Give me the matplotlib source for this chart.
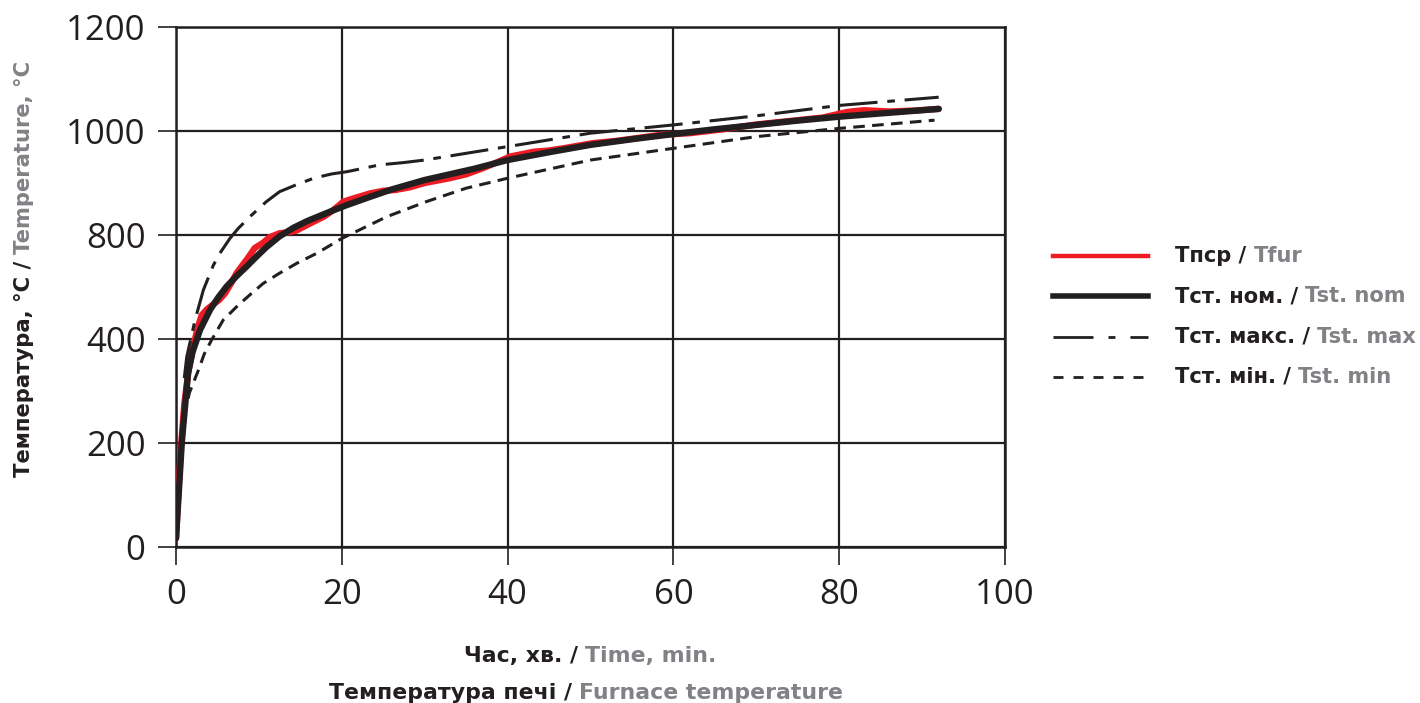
import matplotlib
matplotlib.use('Agg')
import matplotlib.pyplot as plt

# Данні, зчитані з рисунку (шкала осі Y: 0..1200, мітки як у оригіналі)
t_nom = [0, 0.35, 0.7, 1.45, 2.0, 2.9, 4.1, 5.1, 6.1, 7.3, 8.5, 9.7, 10.9, 12.5, 14.2, 15.8, 18.6, 20.6, 23.4, 26,
         30, 33, 36, 40, 45, 50, 55, 60, 65, 70, 75, 80, 86, 92]
T_nom = [20, 130, 241, 401, 450, 501, 547, 576, 601, 625, 647, 670, 692, 717, 737, 752, 774, 789, 808, 825,
         847, 860, 873, 893, 911, 928, 941, 953, 964, 974, 984, 993, 1002, 1011]

t_fur = [0, 0.3, 0.6, 1, 1.5, 2, 2.6, 3.1, 3.7, 4.5, 5.2, 5.9, 6.6, 7.3, 8, 8.6, 9.5, 10.5, 11.3, 12.5, 13.5,
         14.5, 16, 17.8, 18.8, 20.2, 21.5, 23.4, 25, 26.5, 28.2, 30, 33, 35, 37, 38.5, 40.3, 43.1, 45, 47, 50.3,
         53, 55, 58.4, 62, 66, 70, 74, 78, 81, 83, 86, 89, 92]
T_fur = [20, 130, 230, 330, 405, 455, 505, 535, 548, 560, 570, 585, 607, 632, 650, 665, 690, 702, 715, 724, 726,
         730, 745, 762, 775, 797, 805, 816, 822, 824, 830, 840, 851, 860, 874, 886, 901, 912, 915, 921, 932,
         937, 942, 951, 955, 964, 975, 983, 991, 1004, 1008, 1005, 1007, 1011]

t_max = [1.0, 1.3, 2.3, 3.3, 4.5, 5.3, 6.5, 7.5, 8.9, 10.9, 12.5, 14.4, 16.6, 18.8, 20.6, 24.6, 27.4, 30, 40,
         50, 60, 70, 80, 92]
T_max = [390, 439, 524, 593, 650, 678, 712, 735, 762, 797, 820, 835, 851, 861, 866, 882, 887, 893, 924,
         955, 974, 995, 1019, 1038]

t_min = [1.0, 1.6, 2.7, 3.4, 4.3, 5.7, 7.5, 9.1, 10.5, 12.5, 14.6, 17, 20, 25.4, 30.2, 35, 40, 50, 60, 70, 80,
         91.5]
T_min = [300, 355, 408, 445, 478, 524, 558, 585, 608, 632, 655, 678, 712, 762, 797, 828, 851, 893, 920, 947, 966,
         985]

x_ticks = [0, 20, 40, 60, 80, 100]
y_ticks = [0, 240, 480, 720, 960, 1200]
y_tick_labels = ['0', '200', '400', '800', '1000', '1200']

leg_black = ['Тпср / ', 'Тст. ном. / ', 'Тст. макс. / ', 'Тст. мін. / ']
leg_grey = ['Tfur', 'Tst. nom', 'Tst. max', 'Tst. min']

INK = '#231f20'
GREY = '#808285'
RED = '#ed1c24'

fig = plt.figure(figsize=(14.2, 7.03), dpi=100)
ax = fig.add_axes([176 / 1420, 1 - 547 / 703, (1005 - 176) / 1420, (547 - 27) / 703])

ax.plot(t_fur, T_fur, color=RED, lw=4.6, solid_capstyle='round', solid_joinstyle='round', zorder=3)
ax.plot(t_nom, T_nom, color=INK, lw=4.6, solid_capstyle='round', solid_joinstyle='round', zorder=4)
ax.plot(t_max, T_max, color=INK, lw=2.2, linestyle=(0, (12.5, 3.2, 2.5, 3.2)), zorder=4)
ax.plot(t_min, T_min, color=INK, lw=2.2, linestyle=(0, (3.8, 2.4)), zorder=4)

ax.set_xlim(0, 100)
ax.set_ylim(0, 1200)
ax.set_xticks(x_ticks)
ax.set_yticks(y_ticks)
ax.set_yticklabels(y_tick_labels)
ax.grid(True, color=INK, lw=1.6)
ax.set_axisbelow(True)
for s in ax.spines.values():
    s.set_color(INK)
    s.set_linewidth(1.8)
ax.tick_params(direction='out', length=13, width=1.2, color=INK, labelcolor=INK,
               labelsize=25, pad=9)
for lab in ax.get_xticklabels() + ax.get_yticklabels():
    lab.set_family('Open Sans')

renderer = fig.canvas.get_renderer()


# Двоколірний текст: чорна частина, далі сіра
def two_tone(x, y, black, grey, size, ha='center', rotation=0):
    kw = dict(fontsize=size, fontweight='bold', family='DejaVu Sans', va='baseline',
              rotation=rotation, rotation_mode='anchor')
    full = fig.text(x, y, black + grey, ha=ha, **kw)
    bb = full.get_window_extent(renderer)
    full.remove()
    g = fig.text(x, y, grey, color=GREY, ha='left', **kw)
    gb = g.get_window_extent(renderer)
    if rotation == 0:
        fig.text(bb.x0 / fig.bbox.width, y, black, color=INK, ha='left', **kw)
        g.set_x((bb.x1 - gb.width) / fig.bbox.width)
    else:
        fig.text(x, bb.y0 / fig.bbox.height, black, color=INK, ha='left', **kw)
        g.set_y((bb.y1 - gb.height) / fig.bbox.height)


two_tone(590 / 1420, 1 - 662 / 703, 'Час, хв. / ', 'Time, min.', 15.8)
two_tone(586 / 1420, 1 - 699 / 703, 'Температура печі / ', 'Furnace temperature', 15.8)
two_tone(30 / 1420, 1 - 269 / 703, 'Температура, °С / ', 'Temperature, °C', 15.2, rotation=90)

# Легенда
leg = fig.add_axes([0, 0, 1, 1], facecolor='none')
leg.set_xlim(0, 1420)
leg.set_ylim(703, 0)
leg.axis('off')
leg_y = [256, 296, 337, 377]
leg.plot([1053, 1148], [leg_y[0]] * 2, color=RED, lw=3.2)
leg.plot([1053, 1148], [leg_y[1]] * 2, color=INK, lw=4.0)
leg.plot([1053, 1148], [leg_y[2]] * 2, color=INK, lw=2.0, linestyle=(0, (14.4, 5.4, 2.5, 5.4)))
leg.plot([1053, 1148], [leg_y[3]] * 2, color=INK, lw=2.0, linestyle=(0, (3.6, 3.6)))
for yy, b, g in zip(leg_y, leg_black, leg_grey):
    two_tone(1175 / 1420, 1 - (yy + 6) / 703, b, g, 15.1, ha='left')

fig.savefig('out.png', dpi=100)
